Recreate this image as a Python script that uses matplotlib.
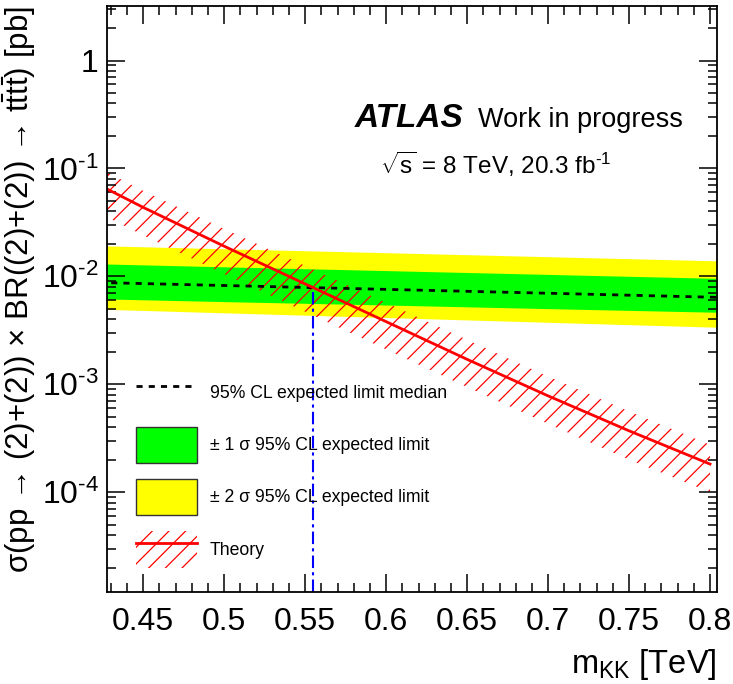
import numpy as np
import matplotlib
matplotlib.use('Agg')
import matplotlib.pyplot as plt
from matplotlib.lines import Line2D
from matplotlib.patches import Patch
from matplotlib.ticker import MultipleLocator, LogLocator, FuncFormatter, NullFormatter

plt.rcParams['font.family'] = ['Liberation Sans', 'DejaVu Sans']
plt.rcParams['mathtext.fontset'] = 'custom'
plt.rcParams['mathtext.rm'] = 'Liberation Sans'
plt.rcParams['mathtext.it'] = 'Liberation Sans:italic'
plt.rcParams['mathtext.bf'] = 'Liberation Sans:bold'
plt.rcParams['hatch.linewidth'] = 0.9

# expected limit (pb) vs KK mass (TeV)
mass = [0.40, 0.50, 0.60, 0.70, 0.80, 0.85]
exp_median = [0.00893, 0.00822, 0.00757, 0.00697, 0.00641, 0.00615]
exp_1s_up = [0.0133, 0.01225, 0.0113, 0.01042, 0.00961, 0.00923]
exp_1s_dn = [0.00630, 0.00583, 0.00542, 0.00502, 0.00466, 0.00449]
exp_2s_up = [0.0196, 0.0180, 0.01656, 0.0152, 0.01397, 0.0134]
exp_2s_dn = [0.00508, 0.00459, 0.00415, 0.00375, 0.00339, 0.00322]

# theory cross section
th_mass = [0.40, 0.45, 0.50, 0.55, 0.60, 0.65, 0.70, 0.75, 0.80]
th_xsec = [0.1046, 0.0435, 0.0190, 0.0085, 0.0038, 0.00170, 7.8e-4, 3.7e-4, 1.82e-4]
th_up = [0.150, 0.062, 0.0275, 0.0125, 0.0057, 0.00258, 0.00118, 5.6e-4, 2.75e-4]
th_dn = [0.057, 0.0240, 0.0105, 0.0047, 0.0021, 9.4e-4, 4.3e-4, 2.0e-4, 1.0e-4]

xmin, xmax = 0.4276, 0.8043
ymin, ymax = 1.2e-5, 3.2

fig = plt.figure(figsize=(7.33, 6.84), dpi=100)
ax = fig.add_axes([107/733, 1-591.5/684, 610/733, 585.5/684])

ax.fill_between(mass, exp_2s_dn, exp_2s_up, color='#ffff00', lw=0)
ax.fill_between(mass, exp_1s_dn, exp_1s_up, color='#00ff00', lw=0)
ax.plot(mass, exp_median, color='black', ls=(0, (2.2, 2.2)), lw=2)

ax.fill_between(th_mass, th_dn, th_up, facecolor='none', edgecolor='#ff0000',
                hatch='//', lw=0)
ax.plot(th_mass, th_xsec, color='#ff0000', lw=2)

# crossing of theory and expected median (log space)
xs = np.linspace(xmin, 0.8, 2000)
diff = np.interp(xs, th_mass, np.log(th_xsec)) - np.interp(xs, mass, np.log(exp_median))
i = np.where(np.diff(np.sign(diff)) != 0)[0][0]
x_cross = xs[i]
y_cross = np.exp(np.interp(x_cross, mass, np.log(exp_median)))
ax.plot([x_cross, x_cross], [ymin, y_cross], color='#0000ff', lw=1.5,
        ls=(0, (6, 2, 1.5, 2)))

ax.set_yscale('log')
ax.set_xlim(xmin, xmax)
ax.set_ylim(ymin, ymax)

ax.xaxis.set_major_locator(MultipleLocator(0.05))
ax.xaxis.set_minor_locator(MultipleLocator(0.01))
ax.xaxis.set_major_formatter(FuncFormatter(lambda v, p: ('%.2f' % v).rstrip('0').rstrip('.')))
ax.yaxis.set_major_locator(LogLocator(base=10, numticks=20))
ax.yaxis.set_minor_locator(LogLocator(base=10, subs=np.arange(2, 10), numticks=20))
ax.yaxis.set_minor_formatter(NullFormatter())


def yfmt(v, p):
    e = int(round(np.log10(v)))
    if e == 0:
        return '1'
    return r'$10^{\text{%d}}$' % e


ax.yaxis.set_major_formatter(FuncFormatter(yfmt))
ax.tick_params(which='both', direction='in', top=True, right=True, width=1.1)
ax.tick_params(which='major', length=13, labelsize=23)
ax.tick_params(which='minor', length=6.5)
ax.tick_params(axis='x', pad=11)
ax.tick_params(axis='y', pad=6)
for s in ax.spines.values():
    s.set_linewidth(1.3)

ax.set_xlabel(r'm$_{\rm KK}$ [TeV]', fontsize=23.5, loc='right')
ax.xaxis.set_label_coords(1.0, -0.095)
ax.set_ylabel('σ(pp → (2)+(2)) × BR((2)+(2)) → t' + r'$\bar{\rm t}$' + 't' + r'$\bar{\rm t}$' + ') [pb]',
              fontsize=22.5, loc='top')
ax.yaxis.set_label_coords(-0.113, 1.0)

ax.text(0.4066, 0.793, 'ATLAS', transform=ax.transAxes, fontsize=24,
        fontweight='bold', fontstyle='italic', va='baseline')
ax.text(0.608, 0.793, 'Work in progress', transform=ax.transAxes, fontsize=19.5,
        va='baseline')
ax.text(0.4475, 0.713, r'$\sqrt{\rm s}$ = 8 TeV, 20.3 fb$^{\text{-1}}$', transform=ax.transAxes,
        fontsize=17.5, va='baseline')

handles = [
    Line2D([], [], color='black', ls=(0, (2.2, 2.2)), lw=2),
    Patch(facecolor='#00ff00', edgecolor='#333333', lw=1),
    Patch(facecolor='#ffff00', edgecolor='#333333', lw=1),
    (Patch(facecolor='none', edgecolor='#ff0000', hatch='//', lw=0),
     Line2D([], [], color='#ff0000', lw=2)),
]
labels = ['95% CL expected limit median',
          '± 1 σ 95% CL expected limit',
          '± 2 σ 95% CL expected limit',
          'Theory']
ax.legend(handles, labels, loc='upper left', bbox_to_anchor=(0.0475, 0.371),
          frameon=False, fontsize=12.7, handlelength=3.45, handleheight=2.8,
          handletextpad=0.73, labelspacing=0.9, borderpad=0, borderaxespad=0)

fig.savefig('out.png', dpi=100)
